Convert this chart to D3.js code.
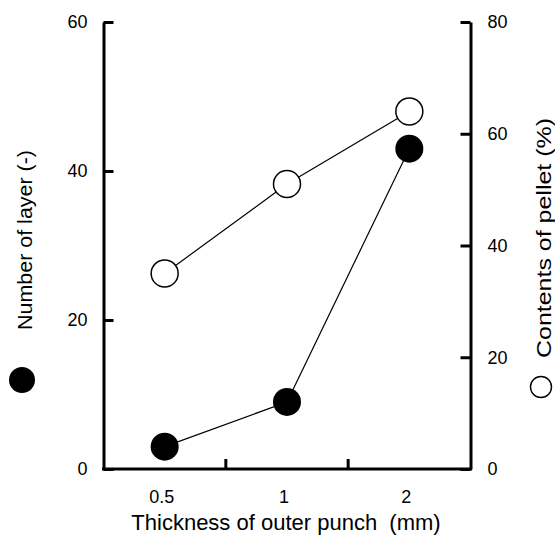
<!DOCTYPE html>
<html>
<head>
<meta charset="utf-8">
<script src="https://cdn.jsdelivr.net/npm/d3@7"></script>
<style>
  body { margin: 0; background: #fff; }
  text { font-family: "Liberation Sans", Arial, Helvetica, sans-serif; fill: #000; }
</style>
</head>
<body>
<svg id="chart" width="555" height="540"></svg>
<script>
// data
var thickness = ["0.5", "1", "2"];
var layers = [3, 9, 43];          // filled circles, left axis
var contents = [35, 51, 64];      // open circles, right axis
var leftTicks = [0, 20, 40, 60];
var rightTicks = [0, 20, 40, 60, 80];

var svg = d3.select("#chart");

var plotL = 103.5, plotR = 470.5, plotT = 22, plotB = 469;

var x = d3.scaleBand().domain(thickness).range([plotL, plotR]);
var yL = d3.scaleLinear().domain([0, 60]).range([plotB, plotT]);
var yR = d3.scaleLinear().domain([0, 80]).range([plotB, plotT]);

function styleAxis(g, size) {
    g.selectAll("path").attr("stroke", "#000").attr("stroke-width", 3).attr("fill", "none");
    g.selectAll("line").attr("stroke", "#000").attr("stroke-width", 3);
    g.selectAll("text").style("font-size", size + "px").attr("fill", "#000");
    g.attr("font-family", null).attr("font-size", null);
}

// left axis, ticks inward
var gL = svg.append("g")
    .attr("transform", "translate(" + plotL + ",0)")
    .call(d3.axisLeft(yL).tickValues(leftTicks).tickSizeInner(-10).tickSizeOuter(0).tickPadding(16));
styleAxis(gL, 18);

// right axis
var gR = svg.append("g")
    .attr("transform", "translate(" + plotR + ",0)")
    .call(d3.axisRight(yR).tickValues(rightTicks).tickSizeInner(-10).tickSizeOuter(0).tickPadding(17));
styleAxis(gR, 18);

// bottom axis: labels at band centers
var gB = svg.append("g")
    .attr("transform", "translate(0," + plotB + ")")
    .call(d3.axisBottom(x).tickSize(0).tickPadding(21));
styleAxis(gB, 18);
gB.selectAll("text").attr("dx", -3);
gB.select(".domain").attr("d", "M" + (plotL - 1.5) + ",0H" + (plotR + 1.5));

// inward ticks at band boundaries
svg.selectAll(".xtick")
    .data(thickness.slice(1))
    .enter()
    .append("line")
    .attr("class", "xtick")
    .attr("x1", function (d) { return x(d); })
    .attr("x2", function (d) { return x(d); })
    .attr("y1", plotB)
    .attr("y2", plotB - 10)
    .attr("stroke", "#000")
    .attr("stroke-width", 3);

var cx = function (d, i) { return x(thickness[i]) + x.bandwidth() / 2; };

// open circles: contents of pellet
svg.append("path")
    .datum(contents)
    .attr("fill", "none")
    .attr("stroke", "#000")
    .attr("stroke-width", 1.2)
    .attr("d", d3.line().x(cx).y(function (d) { return yR(d); }));

// filled circles: number of layer
svg.append("path")
    .datum(layers)
    .attr("fill", "none")
    .attr("stroke", "#000")
    .attr("stroke-width", 1.2)
    .attr("d", d3.line().x(cx).y(function (d) { return yL(d); }));

svg.selectAll(".open")
    .data(contents)
    .enter()
    .append("circle")
    .attr("class", "open")
    .attr("cx", cx)
    .attr("cy", function (d) { return yR(d); })
    .attr("r", 13.5)
    .attr("fill", "#fff")
    .attr("stroke", "#000")
    .attr("stroke-width", 1.5);

svg.selectAll(".filled")
    .data(layers)
    .enter()
    .append("circle")
    .attr("class", "filled")
    .attr("cx", cx)
    .attr("cy", function (d) { return yL(d); })
    .attr("r", 14)
    .attr("fill", "#000");

// axis titles
svg.append("text")
    .attr("x", 286)
    .attr("y", 530)
    .attr("text-anchor", "middle")
    .style("font-size", "22px")
    .style("white-space", "pre")
    .text("Thickness of outer punch  (mm)");

svg.append("text")
    .attr("transform", "translate(32,240) rotate(-90)")
    .attr("text-anchor", "middle")
    .style("font-size", "21px")
    .attr("textLength", 180)
    .attr("lengthAdjust", "spacingAndGlyphs")
    .text("Number of layer (-)");

svg.append("text")
    .attr("transform", "translate(551,238) rotate(-90)")
    .attr("text-anchor", "middle")
    .style("font-size", "21px")
    .attr("textLength", 240)
    .attr("lengthAdjust", "spacingAndGlyphs")
    .text("Contents of pellet (%)");

// series symbols next to titles
svg.append("circle").attr("cx", 22).attr("cy", 380).attr("r", 13).attr("fill", "#000");
svg.append("circle").attr("cx", 541).attr("cy", 387).attr("r", 10.5)
    .attr("fill", "#fff").attr("stroke", "#000").attr("stroke-width", 1.4);
</script>
</body>
</html>
